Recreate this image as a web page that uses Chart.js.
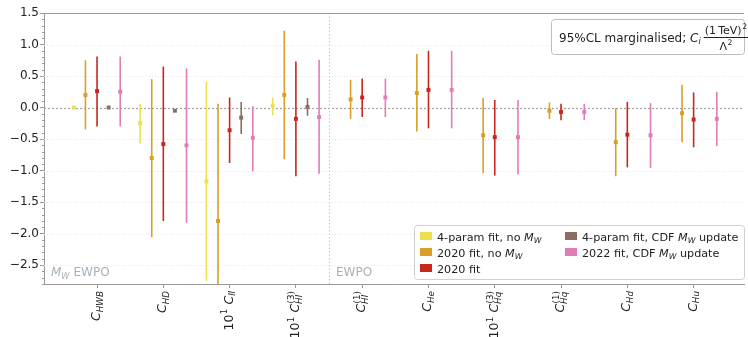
<!DOCTYPE html>
<html lang="en">
<head>
  <meta charset="UTF-8">
  <title>SMEFT fit comparison</title>
  <script src="https://cdn.jsdelivr.net/npm/chart.js"></script>
  <style>
    body { margin: 0; background: #fff; }
    #wrap { width: 748px; height: 337px; }
  </style>
</head>
<body>
  <div id="wrap"><canvas id="fitChart" width="748" height="337"></canvas></div>
  <script>
    // categories (drawn as rich text below the axis)
    const categories = ['C_HWB', 'C_HD', '10 C_ll', '10 C_Hl3', 'C_Hl1', 'C_He', '10 C_Hq3', 'C_Hq1', 'C_Hd', 'C_Hu'];
    const yTicks = [1.5, 1.0, 0.5, 0.0, -0.5, -1.0, -1.5, -2.0, -2.5];

    // best fit value, lower and upper 95% bound per category
    const fourParamVal = [0.00, -0.25, -1.17, 0.03, null, null, null, null, null, null];
    const fourParamLo  = [-0.01, -0.57, -2.75, -0.12, null, null, null, null, null, null];
    const fourParamHi  = [0.01, 0.06, 0.41, 0.16, null, null, null, null, null, null];

    const fit2020NoMwVal = [0.20, -0.80, -1.80, 0.20, 0.13, 0.23, -0.44, -0.05, -0.55, -0.09];
    const fit2020NoMwLo  = [-0.35, -2.06, -3.50, -0.82, -0.18, -0.38, -1.04, -0.18, -1.09, -0.55];
    const fit2020NoMwHi  = [0.75, 0.45, 0.06, 1.22, 0.44, 0.85, 0.15, 0.08, -0.01, 0.36];

    const fit2020Val = [0.26, -0.58, -0.36, -0.18, 0.16, 0.28, -0.47, -0.07, -0.43, -0.19];
    const fit2020Lo  = [-0.30, -1.80, -0.88, -1.09, -0.15, -0.33, -1.08, -0.20, -0.95, -0.63];
    const fit2020Hi  = [0.81, 0.65, 0.16, 0.73, 0.46, 0.90, 0.12, 0.06, 0.09, 0.24];

    const fourParamCdfVal = [0.00, -0.05, -0.16, 0.01, null, null, null, null, null, null];
    const fourParamCdfLo  = [-0.01, -0.06, -0.42, -0.13, null, null, null, null, null, null];
    const fourParamCdfHi  = [0.01, -0.04, 0.09, 0.15, null, null, null, null, null, null];

    const fit2022CdfVal = [0.25, -0.60, -0.48, -0.15, 0.16, 0.28, -0.47, -0.07, -0.44, -0.18];
    const fit2022CdfLo  = [-0.30, -1.83, -1.01, -1.05, -0.15, -0.33, -1.06, -0.20, -0.96, -0.61];
    const fit2022CdfHi  = [0.81, 0.62, 0.02, 0.76, 0.46, 0.90, 0.12, 0.06, 0.07, 0.25];

    const FONT = '"DejaVu Sans"';

    const series = [
      { name: [{ t: '4-param fit, no ' }, { t: 'M', it: true }, { sub: 'W' }], color: '#ebe04e', off: -0.35, val: fourParamVal, lo: fourParamLo, hi: fourParamHi },
      { name: [{ t: '2020 fit, no ' }, { t: 'M', it: true }, { sub: 'W' }], color: '#d99f27', off: -0.175, val: fit2020NoMwVal, lo: fit2020NoMwLo, hi: fit2020NoMwHi },
      { name: [{ t: '2020 fit' }], color: '#c9261e', off: 0, val: fit2020Val, lo: fit2020Lo, hi: fit2020Hi },
      { name: [{ t: '4-param fit, CDF ' }, { t: 'M', it: true }, { sub: 'W' }, { t: ' update' }], color: '#8b6d61', off: 0.175, val: fourParamCdfVal, lo: fourParamCdfLo, hi: fourParamCdfHi },
      { name: [{ t: '2022 fit, CDF ' }, { t: 'M', it: true }, { sub: 'W' }, { t: ' update' }], color: '#e07db6', off: 0.35, val: fit2022CdfVal, lo: fit2022CdfLo, hi: fit2022CdfHi }
    ];

    // rich text labels for the x axis
    const C = { t: 'C', it: true };
    const ten = [{ t: '10' }, { sup: '1' }, { t: ' ' }];
    const xLabels = [
      [C, { sub: 'HWB' }],
      [C, { sub: 'HD' }],
      ten.concat([C, { sub: 'll' }]),
      ten.concat([C, { sub: 'Hl', sup: '(3)' }]),
      [C, { sub: 'Hl', sup: '(1)' }],
      [C, { sub: 'He' }],
      ten.concat([C, { sub: 'Hq', sup: '(3)' }]),
      [C, { sub: 'Hq', sup: '(1)' }],
      [C, { sub: 'Hd' }],
      [C, { sub: 'Hu' }]
    ];

    // draws (or measures) a list of text pieces with sub/superscripts, returns width
    function rich(ctx, segs, x, y, S, draw) {
      let cx = x;
      const s = S * 0.7;
      segs.forEach(g => {
        if (g.t !== undefined) {
          ctx.font = (g.it ? 'italic ' : '') + S + 'px ' + FONT;
          if (draw) ctx.fillText(g.t, cx, y);
          cx += ctx.measureText(g.t).width;
        } else {
          let w = 0;
          if (g.sub) {
            ctx.font = 'italic ' + s + 'px ' + FONT;
            if (draw) ctx.fillText(g.sub, cx, y + S * 0.22);
            w = Math.max(w, ctx.measureText(g.sub).width);
          }
          if (g.sup) {
            ctx.font = s + 'px ' + FONT;
            if (draw) ctx.fillText(g.sup, cx + 0.5, y - S * 0.42);
            w = Math.max(w, ctx.measureText(g.sup).width + 0.5);
          }
          cx += w;
        }
      });
      return cx - x;
    }

    function dotted(ctx, x1, y1, x2, y2, color, dash, width) {
      ctx.save();
      ctx.strokeStyle = color;
      ctx.lineWidth = width || 1;
      ctx.setLineDash(dash);
      ctx.beginPath();
      ctx.moveTo(x1, y1);
      ctx.lineTo(x2, y2);
      ctx.stroke();
      ctx.restore();
    }

    const decorPlugin = {
      id: 'decor',
      beforeDatasetsDraw(chart) {
        const ctx = chart.ctx, a = chart.chartArea;
        const x = chart.scales.x, y = chart.scales.y;
        // light grid + zero line + EWPO separator
        yTicks.forEach(v => {
          if (v === 0 || v === 1.5) return;
          const py = Math.round(y.getPixelForValue(v)) + 0.5;
          dotted(ctx, a.left, py, a.right, py, '#e6e6e6', [1, 2]);
        });
        const py0 = Math.round(y.getPixelForValue(0)) + 0.5;
        dotted(ctx, a.left, py0, a.right, py0, '#a0a0a0', [2, 2], 1.2);
        const pxs = Math.round(x.getPixelForValue(3.5)) + 0.5;
        dotted(ctx, pxs, a.top, pxs, a.bottom, '#c4c4c4', [1.5, 2]);

        // error bars
        ctx.save();
        ctx.beginPath();
        ctx.rect(a.left, a.top, a.right - a.left, a.bottom - a.top);
        ctx.clip();
        ctx.lineWidth = 1.6;
        series.forEach(s => {
          ctx.strokeStyle = s.color;
          s.val.forEach((v, i) => {
            if (v === null) return;
            const px = x.getPixelForValue(i + s.off);
            ctx.beginPath();
            ctx.moveTo(px, y.getPixelForValue(s.lo[i]));
            ctx.lineTo(px, y.getPixelForValue(s.hi[i]));
            ctx.stroke();
          });
        });
        ctx.restore();
      },
      afterDraw(chart) {
        const ctx = chart.ctx, a = chart.chartArea;
        const x = chart.scales.x, y = chart.scales.y;
        ctx.save();
        // top frame
        dotted(ctx, a.left, a.top + 0.5, a.right, a.top + 0.5, '#999', []);
        // minor y ticks
        ctx.strokeStyle = '#999';
        ctx.lineWidth = 1;
        for (let k = -28; k <= 15; k++) {
          if (k % 5 === 0) continue;
          const py = Math.round(y.getPixelForValue(k / 10)) + 0.5;
          ctx.beginPath();
          ctx.moveTo(a.left - 2, py);
          ctx.lineTo(a.left, py);
          ctx.stroke();
        }

        // x labels, rotated
        ctx.fillStyle = '#222';
        ctx.textAlign = 'left';
        ctx.textBaseline = 'alphabetic';
        xLabels.forEach((segs, i) => {
          const px = x.getPixelForValue(i);
          const w = rich(ctx, segs, 0, 0, 12.5, false);
          ctx.save();
          ctx.translate(px + 3, a.bottom + 7);
          ctx.rotate(-Math.PI / 2);
          rich(ctx, segs, -w, 0, 12.5, true);
          ctx.restore();
        });

        // region notes
        ctx.fillStyle = '#a7b1bb';
        rich(ctx, [{ t: 'M', it: true }, { sub: 'W' }, { t: ' EWPO' }], a.left + 7, a.bottom - 8, 12, true);
        rich(ctx, [{ t: 'EWPO' }], x.getPixelForValue(3.5) + 7, a.bottom - 8, 12, true);

        // legend
        const lx = 414, ly = 225, lw = 330, lh = 54;
        ctx.beginPath();
        ctx.roundRect(lx + 0.5, ly + 0.5, lw, lh, 3);
        ctx.fillStyle = 'rgba(255,255,255,0.85)';
        ctx.fill();
        ctx.strokeStyle = '#d0d0d0';
        ctx.stroke();
        const slots = [[420, 236], [420, 252], [420, 268], [565, 236], [565, 252]];
        series.forEach((s, k) => {
          const [sx, sy] = slots[k];
          ctx.fillStyle = s.color;
          ctx.fillRect(sx, sy - 4, 12, 8);
          ctx.fillStyle = '#222';
          rich(ctx, s.name, sx + 17, sy + 4.5, 11.2, true);
        });

        // caption box
        const bx = 551, by = 19, bw = 193, bh = 35;
        ctx.beginPath();
        ctx.roundRect(bx + 0.5, by + 0.5, bw, bh, 3);
        ctx.fillStyle = '#fff';
        ctx.fill();
        ctx.strokeStyle = '#bdbdbd';
        ctx.stroke();
        ctx.fillStyle = '#222';
        let cx = 559;
        cx += rich(ctx, [{ t: '95%CL marginalised; ' }, { t: 'C', it: true }, { sub: 'i' }], cx, 41.5, 12, true);
        cx += 3;
        const num = [{ t: '(1\u2009TeV)' }, { sup: '2' }];
        const den = [{ t: '\u039b' }, { sup: '2' }];
        const nw = rich(ctx, num, 0, 0, 11, false);
        const dw = rich(ctx, den, 0, 0, 11, false);
        const fw = Math.max(nw, dw) + 2;
        rich(ctx, num, cx + (fw - nw) / 2, 33.5, 11, true);
        rich(ctx, den, cx + (fw - dw) / 2, 50, 11, true);
        ctx.fillRect(cx, 37, fw, 1);
        ctx.restore();
      }
    };

    const datasets = series.map(s => ({
      label: s.name.map(g => g.t || g.sub).join(''),
      data: s.val.map((v, i) => v === null ? null : { x: i + s.off, y: v }).filter(p => p),
      backgroundColor: s.color,
      borderColor: s.color,
      borderWidth: 0,
      pointStyle: 'rect',
      pointRadius: 2.8
    }));

    new Chart(document.getElementById('fitChart'), {
      type: 'scatter',
      data: { datasets: datasets },
      options: {
        responsive: false,
        animation: false,
        layout: { padding: { top: 13, right: 0, left: 0, bottom: 0 } },
        plugins: { legend: { display: false }, tooltip: { enabled: false } },
        scales: {
          x: {
            type: 'linear',
            min: -0.8,
            max: 9.76,
            afterBuildTicks: s => { s.ticks = categories.map((c, i) => ({ value: i })); },
            afterFit: s => { s.height = 53; },
            ticks: { display: false },
            grid: { drawOnChartArea: false, drawTicks: true, tickLength: 4, color: '#999' },
            border: { color: '#999' }
          },
          y: {
            min: -2.8,
            max: 1.5,
            afterBuildTicks: s => { s.ticks = yTicks.map(v => ({ value: v })); },
            afterFit: s => { s.width = 44; },
            ticks: {
              padding: 1,
              color: '#222',
              font: { family: 'DejaVu Sans', size: 12 },
              callback: v => v.toFixed(1).replace('-', '\u2212')
            },
            grid: { drawOnChartArea: false, drawTicks: true, tickLength: 4, color: '#999' },
            border: { color: '#999' }
          }
        }
      },
      plugins: [decorPlugin]
    });
  </script>
</body>
</html>
